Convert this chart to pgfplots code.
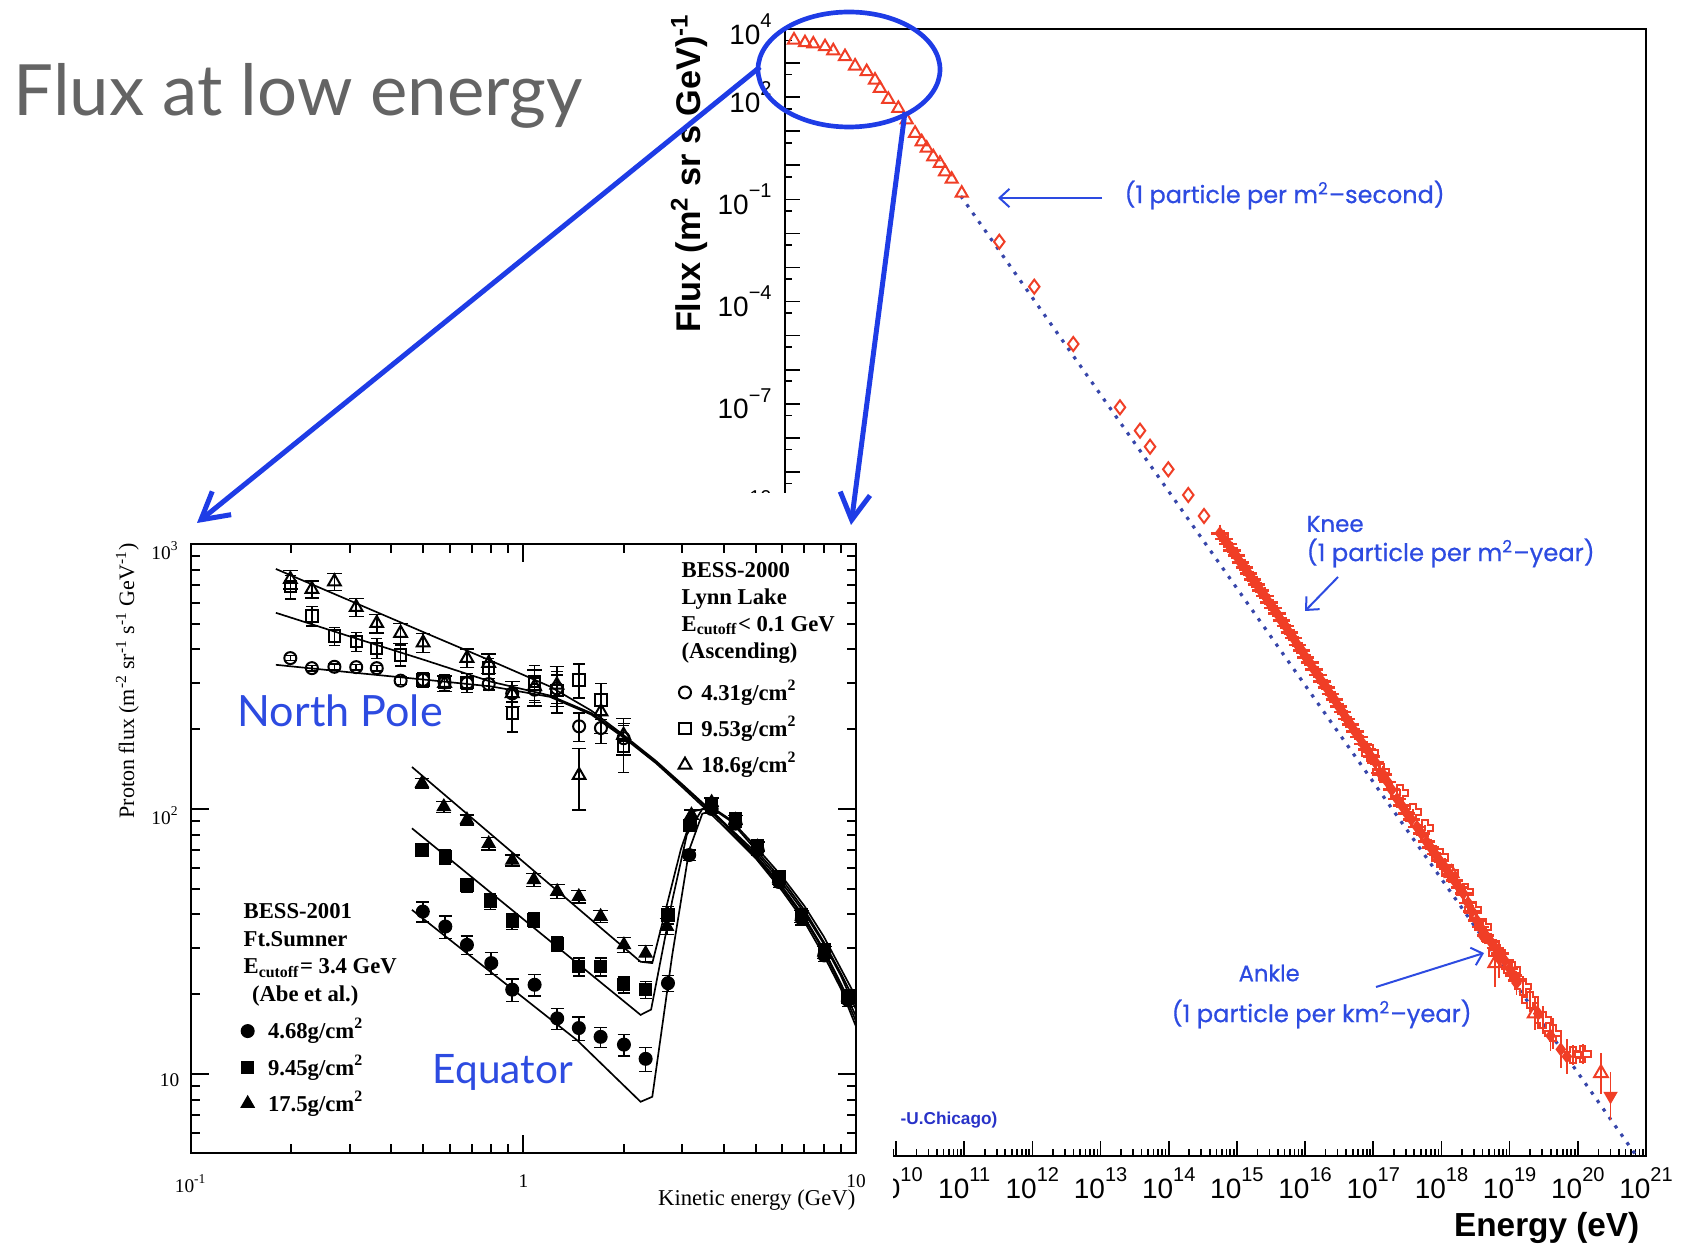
\documentclass[border=0pt]{standalone}
\usepackage{fontspec}
\usepackage{graphicx}
\usepackage{pgfplots}
\usepackage{pgfplotstable}
\pgfplotsset{compat=1.18}
\usetikzlibrary{arrows.meta}
\setmainfont{Liberation Serif}
\setsansfont{Liberation Sans}
\newfontfamily\lato{Lato}
\newfontfamily\pop{Poppins}[FakeBold=0.6]

\definecolor{myred}{RGB}{240,62,38}
\definecolor{dotblue}{RGB}{55,70,170}
\definecolor{annblue}{RGB}{45,75,225}
\definecolor{bigblue}{RGB}{30,60,230}
\definecolor{titlegray}{RGB}{100,100,100}
\definecolor{chiblue}{RGB}{40,50,200}

\pgfdeclareplotmark{ocross}{%
  \pgfpathmoveto{\pgfqpoint{-0.35\pgfplotmarksize}{\pgfplotmarksize}}%
  \pgfpathlineto{\pgfqpoint{0.35\pgfplotmarksize}{\pgfplotmarksize}}%
  \pgfpathlineto{\pgfqpoint{0.35\pgfplotmarksize}{0.35\pgfplotmarksize}}%
  \pgfpathlineto{\pgfqpoint{\pgfplotmarksize}{0.35\pgfplotmarksize}}%
  \pgfpathlineto{\pgfqpoint{\pgfplotmarksize}{-0.35\pgfplotmarksize}}%
  \pgfpathlineto{\pgfqpoint{0.35\pgfplotmarksize}{-0.35\pgfplotmarksize}}%
  \pgfpathlineto{\pgfqpoint{0.35\pgfplotmarksize}{-\pgfplotmarksize}}%
  \pgfpathlineto{\pgfqpoint{-0.35\pgfplotmarksize}{-\pgfplotmarksize}}%
  \pgfpathlineto{\pgfqpoint{-0.35\pgfplotmarksize}{-0.35\pgfplotmarksize}}%
  \pgfpathlineto{\pgfqpoint{-\pgfplotmarksize}{-0.35\pgfplotmarksize}}%
  \pgfpathlineto{\pgfqpoint{-\pgfplotmarksize}{0.35\pgfplotmarksize}}%
  \pgfpathlineto{\pgfqpoint{-0.35\pgfplotmarksize}{0.35\pgfplotmarksize}}%
  \pgfpathclose\pgfusepathqstroke}

\newcommand\Tk[1]{\fontsize{8.4}{9}\selectfont\sffamily 10\raisebox{0.6em}{\fontsize{6}{6}\selectfont #1}}
\newcommand\lgf{\fontsize{6.8}{7}\selectfont\bfseries}

\def\mxt{3e8}
\foreach \e in {8,...,20}{\foreach \m in {2,...,9}{\xdef\mxt{\mxt,\m e\e}}}

\pgfplotsset{
  table/lg/.style={x expr=10^(\thisrow{lx}), y expr=10^(\thisrow{ly})},
  table/lge/.style={x expr=10^(\thisrow{lx}), y expr=10^(\thisrow{ly}),
    y error plus expr={10^(\thisrow{ly}+\thisrow{e})-10^(\thisrow{ly})},
    y error minus expr={10^(\thisrow{ly})-10^(\thisrow{ly}-\thisrow{e})}},
  mk/.style={only marks, legend image code/.code={\draw[##1] plot coordinates {(0pt,0pt)};}},
}

% ---------------- main spectrum (log10 of E/eV and of flux) ----------------
\pgfplotstableread{
lx ly
8.504 3.677
8.665 3.598
8.787 3.560
8.959 3.480
9.080 3.360
9.252 3.190
9.400 2.914
9.570 2.750
9.692 2.500
9.765 2.260
9.887 1.937
10.034 1.670
10.157 1.330
10.280 0.940
10.377 0.690
10.450 0.500
10.547 0.250
10.645 0.058
10.720 -0.190
10.817 -0.410
10.964 -0.820
}\tri
\pgfplotstableread{
lx ly
11.515 -2.243
12.028 -3.564
12.600 -5.246
13.285 -7.104
13.579 -7.790
13.726 -8.260
13.994 -8.924
14.287 -9.678
14.518 -10.294
}\dia
\pgfplotstableread{
lx ly
14.75 -10.80
14.81 -10.97
14.87 -11.12
14.93 -11.31
14.99 -11.46
15.05 -11.65
15.11 -11.80
15.17 -11.98
15.23 -12.15
15.29 -12.30
15.35 -12.49
15.41 -12.64
15.47 -12.83
15.53 -12.99
15.59 -13.16
15.65 -13.36
15.71 -13.52
15.77 -13.72
15.83 -13.88
15.89 -14.08
15.95 -14.24
16.01 -14.44
16.07 -14.60
16.13 -14.80
16.19 -14.96
16.25 -15.16
16.31 -15.32
16.37 -15.52
16.43 -15.68
16.49 -15.88
16.55 -16.05
16.61 -16.25
16.67 -16.42
16.73 -16.62
16.79 -16.78
16.85 -16.99
16.91 -17.15
16.97 -17.36
17.03 -17.52
17.10 -17.84
17.15 -17.89
17.21 -18.10
17.27 -18.33
17.35 -18.60
17.42 -18.80
17.49 -19.02
17.56 -19.20
17.64 -19.42
17.71 -19.62
17.78 -19.85
17.84 -20.02
17.91 -20.22
17.98 -20.42
18.05 -20.60
18.12 -20.80
18.19 -21.00
18.26 -21.20
18.32 -21.37
18.39 -21.65
18.45 -21.90
18.52 -22.17
18.57 -22.36
18.65 -22.60
18.72 -22.78
18.79 -22.97
18.86 -23.13
18.93 -23.35
19.00 -23.58
19.06 -23.78
19.11 -23.92
}\knee
\pgfplotstableread{
lx ly e
16.95 -17.25 0.08
17.12 -17.80 0.08
17.39 -18.42 0.10
17.58 -18.98 0.10
17.76 -19.45 0.10
17.98 -20.30 0.10
18.13 -20.77 0.12
18.35 -21.33 0.15
18.46 -21.86 0.15
18.61 -22.36 0.15
18.82 -23.12 0.25
19.04 -23.62 0.30
19.20 -24.11 0.30
19.30 -24.50 0.35
19.49 -25.09 0.40
19.64 -25.48 0.45
19.93 -26.11 0.30
20.07 -26.08 0.30
}\crs
\pgfplotstableread{
lx ly e
18.15 -20.78 0.10
18.79 -23.42 0.70
19.37 -24.89 0.50
20.34 -26.65 0.60
}\otri
\pgfplotstableread{
lx ly e
18.60 -22.60 0.20
18.85 -23.30 0.55
19.10 -24.00 0.35
19.42 -24.90 0.45
19.60 -25.55 0.45
19.75 -25.95 0.55
19.84 -26.16 0.50
}\fst
\pgfplotstableread{
lx ly e
20.48 -27.32 0.70
}\dtri
\pgfplotstableread{
lx ly
10.95 -0.90
20.86 -29.08
}\dotl

% ---------------- inset (BESS) ----------------
\pgfplotstableread{
x y e
0.199 371 8
0.231 340 8
0.270 344 8
0.314 343 8
0.362 340 8
0.427 305 10
0.499 307 15
0.579 300 15
0.676 298 15
0.786 296 15
0.925 273 20
1.08 282 30
1.26 285 35
1.47 205 25
1.71 202 25
2.00 185 25
}\npc
\pgfplotstableread{
x y e
0.199 690 70
0.231 535 45
0.270 450 35
0.314 428 35
0.362 404 35
0.427 381 35
0.499 307 20
0.579 300 20
0.676 300 25
0.786 340 30
0.925 230 35
1.08 302 45
1.26 280 50
1.47 307 45
1.71 258 40
2.00 172 35
}\nps
\pgfplotstableread{
x y e
0.199 736 60
0.231 675 50
0.270 721 55
0.314 577 45
0.362 502 40
0.427 461 40
0.499 424 35
0.579 298 20
0.676 371 30
0.786 355 30
0.925 273 30
1.08 290 45
1.26 294 50
1.47 134 35
1.71 233 40
2.00 190 30
}\npt
\pgfplotstableread{
x y e
0.498 41 3.5
0.582 36 3.5
0.676 30.7 2.5
0.800 26.2 2.5
0.925 20.8 2
1.08 21.7 2
1.263 16.2 1.5
1.467 14.9 1.5
1.706 13.8 1.2
2.005 12.9 1.2
2.33 11.4 1.2
2.72 22 1.5
3.15 67 3
3.68 100 4
4.34 88 3
5.06 70 3
5.87 53 2.5
6.87 38.5 2
8.03 28 1.5
9.46 19 1
}\eqc
\pgfplotstableread{
x y e
0.495 70 4
0.582 66 4
0.676 51.6 3
0.795 44.7 3
0.925 37.6 2.5
1.074 38.1 2.5
1.263 31.1 2
1.467 25.4 2
1.706 25.4 2
2.00 21.7 1.5
2.33 20.8 1.5
2.72 39.8 3
3.17 86.6 4
3.68 104 4
4.34 92 3.5
5.06 73 3
5.87 55.5 2.5
6.87 40 2
8.03 29.5 1.5
9.46 19.8 1
}\eqs
\pgfplotstableread{
x y e
0.495 125 5
0.576 102 5
0.676 91 4
0.786 74 4
0.925 64 3
1.074 54 3
1.263 48.8 3
1.467 46.7 2.5
1.706 39.3 2
2.005 30.7 2
2.33 28.5 2
2.70 36 2.5
3.20 95 4
3.68 106 4
4.34 90.8 3.5
5.06 72 3
5.87 54.5 2.5
6.87 39.3 2
8.03 28.8 1.5
9.46 19.5 1
}\eqt
\pgfplotstableread{
x y
0.18 805
0.3 612
0.5 465
0.8 362
1.2 290
1.6 235
2.0 190
2.5 152
3.0 124
3.5 104
4 89
5 67
6 51
7 39
8 29.5
9 22
10 16.5
}\cnpa
\pgfplotstableread{
x y
0.18 550
0.3 448
0.5 366
0.8 302
1.2 268
1.6 230
2.0 188
2.5 151
3.0 123
3.5 103
4 88
5 66
6 50
7 38.5
8 29
9 21.5
10 15.8
}\cnpb
\pgfplotstableread{
x y
0.18 350
0.3 328
0.5 308
0.8 290
1.2 265
1.6 227
2.0 186
2.5 149
3.0 121
3.5 101
4 86
5 65
6 49
7 37.5
8 28
9 21
10 15.1
}\cnpc
\pgfplotstableread{
x y
0.462 144
2.25 26.5
2.44 26.2
2.97 70
3.25 98
3.6 101
4 89
5 68.5
6 52.5
7 40.5
8 31
9 23.5
10 17.5
}\ceqa
\pgfplotstableread{
x y
0.462 84.5
2.25 16.7
2.42 17.5
2.8 45
3.1 80
3.45 100
3.8 98
4.2 90
5 70
6 54
7 41.5
8 31.5
9 24
10 18.5
}\ceqb
\pgfplotstableread{
x y
0.462 41.6
1.45 13.4
2.25 7.85
2.44 8.2
2.8 28
3.15 70
3.45 96
3.8 99
4.2 91
5 72
6 55.5
7 43
8 33
9 25
10 19.5
}\ceqc

\begin{document}
\begin{tikzpicture}
% ================= main axis =================
\begin{axis}[
  at={(235.5pt,-346.8pt)}, anchor=south west,
  scale only axis, width=258.3pt, height=338.1pt,
  xmode=log, ymode=log,
  xmin=2.355e8, xmax=1e21, ymin=8.318e-30, ymax=1e4,
  axis line style={line width=0.6pt},
  tick align=inside, tick pos=left,
  major tick length=4.5pt, minor tick length=2.2pt,
  every tick/.style={black, line width=0.5pt},
  xtick={1e10,1e11,1e12,1e13,1e14,1e15,1e16,1e17,1e18,1e19,1e20,1e21},
  xticklabels={\Tk{10},\Tk{11},\Tk{12},\Tk{13},\Tk{14},\Tk{15},\Tk{16},\Tk{17},\Tk{18},\Tk{19},\Tk{20},\Tk{21}},
  minor xtick/.expanded={\mxt},
  ytick={1e-10,1e-7,1e-4,1e-1,1e2,1e4},
  yticklabels={\Tk{−10},\Tk{−7},\Tk{−4},\Tk{−1},\Tk{2},\Tk{4}},
  extra y ticks={1e3,1e1,1e0,1e-2,1e-3,1e-5,1e-6,1e-8,1e-9,1e-11,1e-12},
  extra y tick labels={,,,,,,,,,,},
  minor ytick={4.57e3,4.57e2,45.7,4.57,0.457,4.57e-2,4.57e-3,4.57e-4,4.57e-5,4.57e-6,4.57e-7,4.57e-8,4.57e-9,4.57e-10,4.57e-11,4.57e-12},
  yticklabel style={anchor=east, xshift=-0.5pt},
]
\addplot[dotblue, line width=0.95pt, dash pattern=on 1pt off 2.1pt] table[lg] {\dotl};
\addplot[only marks, myred, mark=triangle, mark size=2.1pt, mark options={line width=0.6pt}] table[lg] {\tri};
\addplot[only marks, myred, mark=diamond, mark size=2.1pt, mark options={line width=0.6pt}] table[lg] {\dia};
\addplot[only marks, myred, mark=diamond*, mark size=1.8pt] table[lg] {\knee};
\addplot[only marks, myred, mark=+, mark size=2.6pt, mark options={line width=0.8pt}] table[lg] {\knee};
\addplot[only marks, myred, mark=ocross, mark size=2.4pt, mark options={line width=0.6pt},
  error bars/.cd, y dir=both, y explicit, error mark=none, error bar style={line width=0.55pt}] table[lge] {\crs};
\addplot[only marks, myred, mark=triangle, mark size=2.4pt, mark options={line width=0.6pt},
  error bars/.cd, y dir=both, y explicit, error mark=none, error bar style={line width=0.55pt}] table[lge] {\otri};
\addplot[only marks, myred, mark=diamond*, mark size=1.8pt,
  error bars/.cd, y dir=both, y explicit, error mark=none, error bar style={line width=0.55pt}] table[lge] {\fst};
\addplot[only marks, myred, mark=triangle*, mark size=2.1pt, mark options={rotate=180},
  error bars/.cd, y dir=both, y explicit, error mark=none, error bar style={line width=0.55pt}] table[lge] {\dtri};
\end{axis}

% white backdrop of the inset picture
\begin{scope}[x=0.3pt,y=-0.3pt]
\fill[white] (0,493) rectangle (893,1246);
\end{scope}

% ================= inset: North Pole =================
\begin{axis}[
  at={(57.3pt,-345.9pt)}, anchor=south west,
  scale only axis, width=199.5pt, height=182.7pt,
  xmode=log, ymode=log, xmin=0.1, xmax=10, ymin=5.03, ymax=1000,
  axis line style={line width=0.8pt},
  tick align=inside,
  major tick length=5.5pt, minor tick length=2.7pt,
  every tick/.style={black, line width=0.6pt},
  xtick={0.1,1,10}, xticklabels={10\textsuperscript{-1},1,10},
  minor xtick={0.2,0.3,0.4,0.5,0.6,0.7,0.8,0.9,2,3,4,5,6,7,8,9},
  ytick={10,100,1000}, yticklabels={10,10\textsuperscript{2},10\textsuperscript{3}},
  minor ytick={6,7,8,9,20,30,40,50,60,70,80,90,200,300,400,500,600,700,800,900},
  ticklabel style={font=\fontsize{5.8}{6}\selectfont},
  xticklabel style={yshift=-3pt},
  yticklabel style={yshift=-2pt},
  legend cell align=left,
  legend style={draw=none, fill=none, at={(0.7323,0.6967)}, anchor=west,
    inner sep=0pt, row sep=1.2pt, font=\lgf, nodes={inner sep=1pt},
    /tikz/every odd column/.append style={column sep=2pt}},
]
\addplot[forget plot, black, line width=0.5pt] table {\cnpa};
\addplot[forget plot, black, line width=0.5pt] table {\cnpb};
\addplot[forget plot, black, line width=0.5pt] table {\cnpc};
\addplot[mk, black, mark=o, mark size=1.8pt, mark options={line width=0.6pt},
  error bars/.cd, y dir=both, y explicit, error bar style={line width=0.5pt}] table[x=x,y=y,y error=e] {\npc};
\addlegendentry{4.31g/cm\textsuperscript{2}}
\addplot[mk, black, mark=square, mark size=1.7pt, mark options={line width=0.6pt},
  error bars/.cd, y dir=both, y explicit, error bar style={line width=0.5pt}] table[x=x,y=y,y error=e] {\nps};
\addlegendentry{9.53g/cm\textsuperscript{2}}
\addplot[mk, black, mark=triangle, mark size=2.2pt, mark options={line width=0.6pt},
  error bars/.cd, y dir=both, y explicit, error bar style={line width=0.5pt}] table[x=x,y=y,y error=e] {\npt};
\addlegendentry{18.6g/cm\textsuperscript{2}}
\end{axis}

% ================= inset: Equator (overlay) =================
\begin{axis}[
  at={(57.3pt,-345.9pt)}, anchor=south west,
  scale only axis, width=199.5pt, height=182.7pt,
  xmode=log, ymode=log, xmin=0.1, xmax=10, ymin=5.03, ymax=1000,
  hide axis,
  legend cell align=left,
  legend style={draw=none, fill=none, at={(0.0747,0.1407)}, anchor=west,
    inner sep=0pt, row sep=1.2pt, font=\lgf, nodes={inner sep=1pt},
    /tikz/every odd column/.append style={column sep=3.2pt}},
]
\addplot[forget plot, black, line width=0.5pt] table {\ceqa};
\addplot[forget plot, black, line width=0.5pt] table {\ceqb};
\addplot[forget plot, black, line width=0.5pt] table {\ceqc};
\addplot[mk, black, mark=*, mark size=1.9pt,
  error bars/.cd, y dir=both, y explicit, error bar style={line width=0.5pt}] table[x=x,y=y,y error=e] {\eqc};
\addlegendentry{4.68g/cm\textsuperscript{2}}
\addplot[mk, black, mark=square*, mark size=1.8pt,
  error bars/.cd, y dir=both, y explicit, error bar style={line width=0.5pt}] table[x=x,y=y,y error=e] {\eqs};
\addlegendentry{9.45g/cm\textsuperscript{2}}
\addplot[mk, black, mark=triangle*, mark size=2.2pt,
  error bars/.cd, y dir=both, y explicit, error bar style={line width=0.5pt}] table[x=x,y=y,y error=e] {\eqt};
\addlegendentry{17.5g/cm\textsuperscript{2}}
\end{axis}

% ================= texts and annotations =================
\begin{scope}[x=0.3pt,y=-0.3pt]
\node[anchor=base west, inner sep=0, text=titlegray] at (13,116) {\resizebox{170.7pt}{!}{\lato Flux at low energy}};
\node[rotate=90, anchor=base, inner sep=0] at (700,173) {\resizebox{96pt}{!}{\sffamily\bfseries Flux (m\textsuperscript{2} sr s GeV)\textsuperscript{-1}}};
\node[anchor=base east, inner sep=0] at (1640,1236) {\fontsize{10}{12}\selectfont\sffamily\bfseries Energy (eV)};
\begin{scope}[annblue]
\node[anchor=west, inner sep=0] at (1124,195) {\resizebox{96pt}{!}{\pop (1 particle per m\textsuperscript{2}–second)}};
\draw[line width=0.6pt, -{Straight Barb[length=3pt,width=5.5pt]}] (1102,198) -- (998,198);
\node[anchor=west, inner sep=0] at (1306,524) {\resizebox{17.1pt}{!}{\pop Knee}};
\node[anchor=west, inner sep=0] at (1306,553) {\resizebox{86.4pt}{!}{\pop (1 particle per m\textsuperscript{2}–year)}};
\draw[line width=0.6pt, -{Straight Barb[length=3pt,width=5.5pt]}] (1338,577) -- (1305,611);
\node[anchor=west, inner sep=0] at (1238,973) {\resizebox{18.3pt}{!}{\pop Ankle}};
\node[anchor=west, inner sep=0] at (1171,1014) {\resizebox{90pt}{!}{\pop (1 particle per km\textsuperscript{2}–year)}};
\draw[line width=0.6pt, -{Straight Barb[length=3pt,width=5.5pt]}] (1376,987) -- (1484,953);
\end{scope}
\node[anchor=west, inner sep=0, text=chiblue] at (900,1120) {\resizebox{29pt}{!}{\sffamily\bfseries -U.Chicago)}};
\node[rotate=90, anchor=base, inner sep=0] at (134,681) {\resizebox{82.5pt}{!}{Proton flux (m\textsuperscript{-2} sr\textsuperscript{-1} s\textsuperscript{-1} GeV\textsuperscript{-1})}};
\node[anchor=east, inner sep=0] at (856,1200) {\fontsize{6.8}{8}\selectfont Kinetic energy (GeV)};
\node[anchor=west, inner sep=0, align=left, font=\fontsize{6.8}{8.1}\selectfont\bfseries] at (681,613) {BESS-2000\\Lynn Lake\\E\textsubscript{cutoff}< 0.1 GeV\\(Ascending)};
\node[anchor=west, inner sep=0, align=left, font=\fontsize{6.8}{8.3}\selectfont\bfseries] at (243,955) {BESS-2001\\Ft.Sumner\\E\textsubscript{cutoff}= 3.4 GeV\\\hspace{2.5pt}(Abe et al.)};
\node[anchor=base west, inner sep=0, text=annblue] at (237,727) {\resizebox{61.5pt}{!}{\lato North Pole}};
\node[anchor=base west, inner sep=0, text=annblue] at (432,1083) {\resizebox{42pt}{!}{\lato Equator}};
\draw[bigblue, line width=1.4pt] (849,69.5) ellipse [x radius=91, y radius=57.5];
\draw[bigblue, line width=1.5pt, -{Straight Barb[length=8pt,width=9pt]}] (760,67) -- (197,523);
\draw[bigblue, line width=1.5pt, -{Straight Barb[length=8pt,width=9pt]}] (905,112) -- (851,525);
\end{scope}

\pgfresetboundingbox
\useasboundingbox (0,0) rectangle (504.3pt,-373.8pt);
\end{tikzpicture}
\end{document}
